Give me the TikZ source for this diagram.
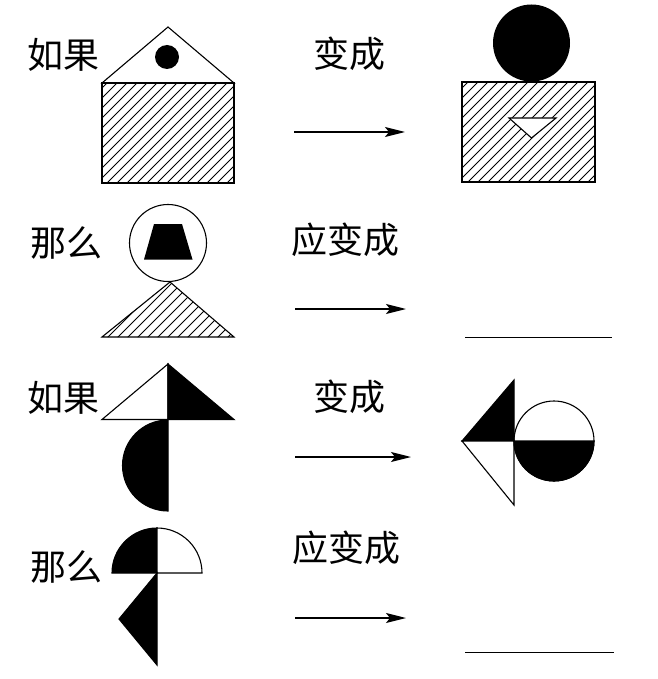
\documentclass[tikz,border=0pt]{standalone}
\usepackage{fontspec}
\newfontfamily\cjk{Noto Sans CJK SC}
\usetikzlibrary{arrows.meta}
\tikzset{
  shp/.style={draw=black, line width=1.1pt, line join=miter},
  blk/.style={shp, fill=black},
  wht/.style={shp, fill=white},
  hatch/.style={draw=black, line width=0.8pt},
  lbl/.style={font=\cjk\fontsize{36}{40}\selectfont, inner sep=0pt},
  arr/.style={line width=1.5pt, -{Stealth[length=20pt,width=10pt,inset=4pt]}},
  blank/.style={line width=0.9pt}
}
\begin{document}
\begin{tikzpicture}[x=1pt,y=-1pt]
\useasboundingbox (0,0) rectangle (657,679);

% ---------- labels ----------
\node[lbl] (t1) at (63,55) {如果};
\node[lbl] (t2) at (66,243) {那么};
\node[lbl] (t3) at (63,398) {如果};
\node[lbl] (t4) at (66,567) {那么};
\node[lbl] (c1) at (349,54) {变成};
\node[lbl] (c2) at (345,240) {应变成};
\node[lbl] (c3) at (349,397) {变成};
\node[lbl] (c4) at (346,548) {应变成};

% ---------- arrows ----------
\coordinate (a1s) at (294,132); \coordinate (a1e) at (405,132);
\coordinate (a2s) at (295,309); \coordinate (a2e) at (406,309);
\coordinate (a3s) at (295,457); \coordinate (a3e) at (411,457);
\coordinate (a4s) at (295,618); \coordinate (a4e) at (406,618);
\draw[arr] (a1s) -- (a1e);
\draw[arr] (a2s) -- (a2e);
\draw[arr] (a3s) -- (a3e);
\draw[arr] (a4s) -- (a4e);

% ---------- blanks ----------
\coordinate (b2s) at (465,337); \coordinate (b2e) at (612,337);
\coordinate (b4s) at (465,652); \coordinate (b4e) at (614,652);
\draw[blank] (b2s) -- (b2e);
\draw[blank] (b4s) -- (b4e);

% ---------- row 1 left: house ----------
\draw[shp] (102,83) -- (168,27) -- (234,83) -- cycle;
\begin{scope}
  \clip (102,83) rectangle (234,183);
  \foreach \i in {-120,-110,...,240} \draw[hatch] (\i,190) -- ++(120,-120);
\end{scope}
\draw[shp] (102,83) rectangle (234,183);
\fill[black] (167,57) circle[radius=12pt];

% ---------- row 1 right ----------
\fill[black] (531.5,43) circle[radius=38.5pt];
\begin{scope}
  \clip (462,82) rectangle (595,182);
  \foreach \i in {340,350,...,700} \draw[hatch] (\i,190) -- ++(120,-120);
\end{scope}
\draw[shp] (462,82) rectangle (595,182);
\draw[wht] (509,118) -- (556,118) -- (531.5,138) -- cycle;

% ---------- row 2 left ----------
\draw[shp] (168,243) circle[radius=38.5pt];
\fill[black] (154,224) -- (182,224) -- (192.5,259.5) -- (144,259.5) -- cycle;
\begin{scope}
  \clip (170,282) -- (102,337) -- (234,337) -- cycle;
  \foreach \i in {-60,-50,...,240} \draw[hatch] (\i,345) -- ++(80,-80);
\end{scope}
\draw[shp] (170,282) -- (102,337) -- (234,337) -- cycle;

% ---------- row 3 left ----------
\draw[wht] (168,364) -- (102,419.5) -- (168,419.5) -- cycle;
\draw[blk] (168,364) -- (234,419.5) -- (168,419.5) -- cycle;
\draw[blk] (168,420) arc[start angle=90, end angle=270, radius=45.5pt] -- cycle;

% ---------- row 3 right ----------
\draw[blk] (514,380) -- (462,441) -- (514,441) -- cycle;
\draw[wht] (462,441) -- (514,441) -- (514,505) -- cycle;
\draw[shp] (554,441) circle[radius=40pt];
\draw[blk] (514,441) arc[start angle=180, end angle=360, radius=40pt] -- cycle;

% ---------- row 4 left ----------
\draw[blk] (157,573) -- (112,573) arc[start angle=180, end angle=90, radius=45pt] -- cycle;
\draw[wht] (157,573) -- (157,528) arc[start angle=90, end angle=0, radius=45pt] -- cycle;
\draw[blk] (157,573) -- (119,619) -- (157,665) -- cycle;
\end{tikzpicture}
\end{document}
